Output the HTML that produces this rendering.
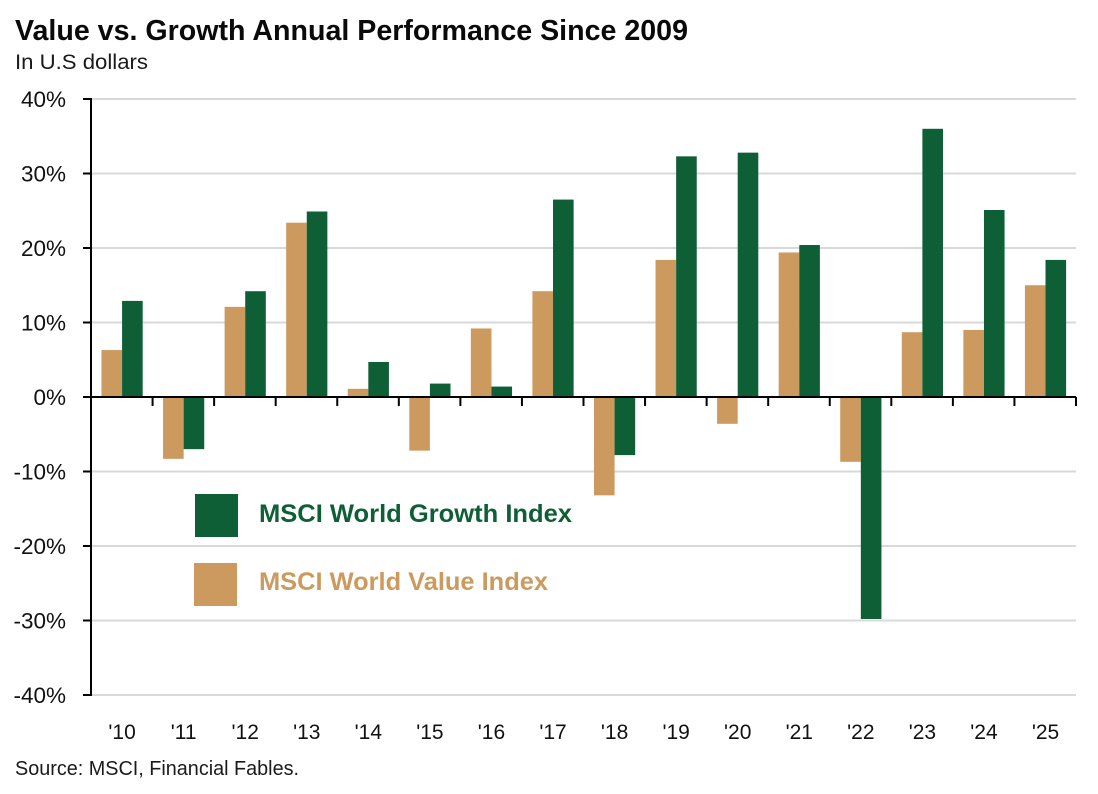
<!DOCTYPE html>
<html>
<head>
<meta charset="utf-8">
<title>Value vs. Growth Annual Performance Since 2009</title>
<style>
html,body{margin:0;padding:0;background:#fff;}
body{width:1098px;height:794px;overflow:hidden;}
svg{display:block;font-family:"Liberation Sans",sans-serif;}
</style>
</head>
<body>
<svg id="chart" width="1098" height="794" viewBox="0 0 1098 794" xmlns="http://www.w3.org/2000/svg">
<rect x="0" y="0" width="1098" height="794" fill="#ffffff"/>
<text x="15" y="40" font-size="29" font-weight="700" fill="#0a0a0a" textLength="673" lengthAdjust="spacingAndGlyphs">Value vs. Growth Annual Performance Since 2009</text>
<text x="15" y="69" font-size="21" fill="#1a1a1a" textLength="133" lengthAdjust="spacingAndGlyphs">In U.S dollars</text>
<text x="15" y="775" font-size="20" fill="#1a1a1a" textLength="284" lengthAdjust="spacingAndGlyphs">Source: MSCI, Financial Fables.</text>
<g id="grid"></g>
<g id="bars"></g>
<g id="axes"></g>
<g>
<g>
<rect x="195" y="494" width="43" height="43" fill="#0e5e36"/>
<text x="259" y="522" font-size="25" font-weight="700" fill="#0e5e36" textLength="313" lengthAdjust="spacingAndGlyphs">MSCI World Growth Index</text>
</g>
<g>
<rect x="194" y="563" width="43" height="43" fill="#cc9a5e"/>
<text x="259" y="590" font-size="25" font-weight="700" fill="#cc9a5e" textLength="289" lengthAdjust="spacingAndGlyphs">MSCI World Value Index</text>
</g>
</g>
</svg>
<script>
const categories = ["'10","'11","'12","'13","'14","'15","'16","'17","'18","'19","'20","'21","'22","'23","'24","'25"];
const valueSeries = [6.3,-8.3,12.1,23.4,1.1,-7.2,9.2,14.2,-13.2,18.4,-3.6,19.4,-8.7,8.7,9.0,15.0];
const growthSeries = [12.9,-7.0,14.2,24.9,4.7,1.8,1.4,26.5,-7.8,32.3,32.8,20.4,-29.8,36.0,25.1,18.4];
const yTicks = [40,30,20,10,0,-10,-20,-30,-40];
const yTickLabels = ["40%","30%","20%","10%","0%","-10%","-20%","-30%","-40%"];

const NS = 'http://www.w3.org/2000/svg';
const plot = {left: 91, right: 1076, top: 99, bottom: 695, min: -40, max: 40};
function yScale(v){ return plot.bottom - (v - plot.min) / (plot.max - plot.min) * (plot.bottom - plot.top); }
function bandWidth(){ return (plot.right - plot.left) / categories.length; }
function xScale(i){ return plot.left + i * bandWidth(); }
function make(tag, attrs, parent){
  const el = document.createElementNS(NS, tag);
  for (const k in attrs) el.setAttribute(k, attrs[k]);
  parent.appendChild(el);
  return el;
}
const gridG = document.getElementById('grid');
const barsG = document.getElementById('bars');
const axesG = document.getElementById('axes');

yTicks.forEach(function(t, i){
  const y = yScale(t);
  if (t !== 0) {
    const g = make('line', {x1: plot.left, x2: plot.right, y1: y, y2: y, stroke: '#d9d9d9', 'stroke-width': 2}, gridG);
    
    
  }
  const tick = make('line', {x1: plot.left - 8, x2: plot.left, y1: y, y2: y, stroke: '#000', 'stroke-width': 2}, axesG);
  
  
  const label = make('text', {x: 66, y: y + 8, 'text-anchor': 'end', 'font-size': 22.5, fill: '#111'}, axesG);
  
  
  label.textContent = yTickLabels[i];
});

const barW = 20.6;
categories.forEach(function(c, i){
  const center = xScale(i) + bandWidth() / 2 + 0.3;
  const y0 = yScale(0);
  const vy = yScale(valueSeries[i]);
  const valueBar = make('rect', {x: center - barW, y: Math.min(vy, y0), width: barW, height: Math.abs(vy - y0), fill: '#cc9a5e'}, barsG);
  
  
  const gy = yScale(growthSeries[i]);
  const growthBar = make('rect', {x: center, y: Math.min(gy, y0), width: barW, height: Math.abs(gy - y0), fill: '#0e5e36'}, barsG);
  
  
  const label = make('text', {x: center, y: 739, 'text-anchor': 'middle', 'font-size': 21, fill: '#111'}, axesG);
  
  
  label.textContent = c;
});

for (let i = 0; i <= categories.length; i++) {
  const x = xScale(i);
  const tick = make('line', {x1: x, x2: x, y1: yScale(0), y2: yScale(0) + 9, stroke: '#000', 'stroke-width': 2}, axesG);
  
  
}
const yAxis = make('line', {x1: plot.left, x2: plot.left, y1: plot.top - 1, y2: plot.bottom + 1, stroke: '#000', 'stroke-width': 2}, axesG);


const xAxis = make('line', {x1: plot.left, x2: plot.right, y1: yScale(0), y2: yScale(0), stroke: '#000', 'stroke-width': 2}, axesG);


</script>
</body>
</html>
